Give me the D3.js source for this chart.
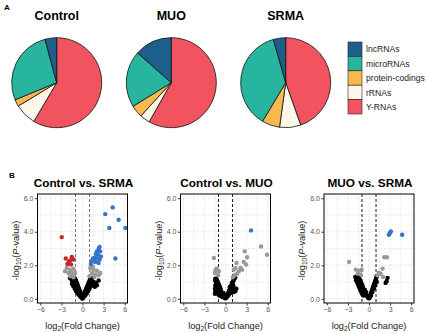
<!DOCTYPE html>
<html>
<head>
<meta charset="utf-8">
<script src="https://cdn.jsdelivr.net/npm/d3@7"></script>
<style>
  body { margin: 0; background: #fff; }
  svg { font-family: "Liberation Sans", Arial, sans-serif; }
</style>
</head>
<body>
<div id="chart"></div>
<script>
// ---- data ----
var pieGroups = ["Control", "MUO", "SRMA"];
var rnaTypes = ["lncRNAs", "microRNAs", "protein-codings", "rRNAs", "Y-RNAs"];
var rnaColors = ["#1d5f8a", "#27b5a0", "#f5b94f", "#fcf7e8", "#f2545f"];
// percent of reads per RNA type
var pieControl = [4.2, 27.0, 2.5, 7.8, 58.5];
var pieMUO = [13.5, 20.3, 4.4, 3.6, 58.2];
var pieSRMA = [4.4, 37.0, 6.4, 7.6, 44.6];

var volcanoTitles = ["Control vs. SRMA", "Control vs. MUO", "MUO vs. SRMA"];
var xTicks = [-6, -3, 0, 3, 6];
var yTicks = [0, 2, 4, 6];

// [log2 fold change, -log10 p]
var ctrlSrmaBlack = [[-0.05,0.02],[-0.1,0.08],[-0.15,0.12],[-0.2,0.15],[-0.25,0.2],[-0.3,0.22],[-0.35,0.28],[-0.4,0.3],[-0.45,0.35],[-0.5,0.38],[-0.55,0.42],[-0.6,0.45],[-0.65,0.5],[-0.7,0.52],[-0.75,0.58],[-0.8,0.6],[-0.85,0.65],[-0.9,0.68],[-0.95,0.72],[-1.0,0.75],[-1.05,0.8],[-1.1,0.82],[-1.15,0.88],[-1.2,0.9],[-1.25,0.95],[-1.3,0.98],[-1.35,1.02],[-1.4,1.05],[-1.45,1.1],[-1.5,1.12],[-1.6,1.18],[-1.7,1.22],[-1.8,1.25],
  [-0.2,0.25],[-0.3,0.38],[-0.4,0.5],[-0.5,0.6],[-0.6,0.72],[-0.7,0.85],[-0.8,0.95],[-0.9,1.05],[-1.0,1.15],[-1.1,1.22],
  [-0.3,0.12],[-0.5,0.22],[-0.7,0.32],[-0.9,0.45],[-1.1,0.6],[-1.3,0.75],[-1.5,0.9],
  [0.05,0.03],[0.1,0.08],[0.15,0.14],[0.2,0.18],[0.25,0.22],[0.3,0.27],[0.35,0.32],[0.4,0.36],[0.45,0.4],[0.5,0.45],[0.55,0.5],[0.6,0.55],[0.65,0.6],[0.7,0.64],[0.75,0.7],[0.8,0.74],[0.85,0.78],[0.9,0.82],[0.95,0.88],[1.0,0.92],[1.05,0.96],[1.1,1.0],[1.15,1.05],[1.2,1.1],[1.3,1.18],[1.4,1.25],
  [0.2,0.3],[0.35,0.45],[0.5,0.6],[0.65,0.75],[0.8,0.9],[0.95,1.05],[1.1,1.2],
  [0.4,0.2],[0.6,0.32],[0.8,0.45],[1.0,0.6],[1.2,0.75],[1.4,0.9],[1.6,1.0],
  [2.05,0.81],[2.3,1.09],[1.75,0.72],[1.9,0.95]];
var ctrlSrmaGrey = [[-2.24,1.84],[-1.76,1.74],[-1.29,1.78],[-2.48,1.64],[-2.0,1.54],[-1.52,1.49],[-1.05,1.54],[-1.76,1.35],[-1.29,1.29],[-1.6,1.6],
  [1.1,1.84],[1.57,1.74],[2.05,1.68],[1.33,1.54],[1.81,1.45],[2.29,1.41],[1.0,1.35],[2.52,1.54],[1.48,1.92],[1.7,1.3]];
var ctrlSrmaDown = [[-2.95,3.68],[-1.52,2.5],[-2.38,2.4],[-1.29,2.34],[-1.76,2.28],[-2.14,2.08],[-1.62,2.04],[-1.95,2.2]];
var ctrlSrmaUp = [[4.29,5.45],[3.24,5.05],[5.14,4.71],[3.81,4.22],[6.1,4.22],[4.67,2.4],
  [2.43,3.09],[2.29,2.97],[2.05,2.83],[2.52,2.83],[1.9,2.67],[2.19,2.63],[2.62,2.53],[1.71,2.44],[1.48,2.4],[2.05,2.4],[2.43,2.34],[1.33,2.24],[1.81,2.2],[2.29,2.14],[1.19,2.08]];

var ctrlMuoBlack = [[-0.05,0.03],[-0.1,0.07],[-0.18,0.12],[-0.25,0.16],[-0.3,0.2],[-0.38,0.25],[-0.45,0.3],[-0.5,0.34],[-0.55,0.38],[-0.62,0.42],[-0.7,0.46],[-0.75,0.5],[-0.8,0.55],[-0.88,0.6],[-0.95,0.64],[-1.0,0.68],[-1.05,0.72],[-1.1,0.78],[-1.15,0.82],[-1.2,0.86],[-1.25,0.9],[-1.3,0.95],[-1.35,1.0],[-1.4,1.05],[-1.42,1.12],[-1.45,1.2],[-1.3,1.2],[-1.2,1.1],[-1.1,1.0],[-1.0,0.9],[-0.9,0.8],[-0.8,0.7],[-0.7,0.6],
  [-1.5,0.3],[-1.45,0.4],[-1.4,0.5],[-1.5,0.6],[-1.35,0.7],[-1.45,0.8],[-1.3,0.55],[-1.2,0.4],[-1.25,0.6],[-1.1,0.3],[-1.0,0.45],[-0.9,0.2],[-0.8,0.3],[-0.6,0.15],[-0.4,0.1],[-0.3,0.35],[-0.2,0.25],
  [0.05,0.04],[0.1,0.09],[0.15,0.13],[0.2,0.18],[0.28,0.24],[0.35,0.3],[0.4,0.36],[0.48,0.42],[0.55,0.5],[0.6,0.56],[0.68,0.62],[0.75,0.7],[0.8,0.76],[0.88,0.82],[0.95,0.9],[1.0,0.96],[1.05,1.02],[1.12,1.08],[1.2,1.15],[1.3,1.22],[1.38,1.28],
  [0.3,0.15],[0.5,0.25],[0.7,0.35],[0.9,0.45],[1.1,0.55],[1.3,0.62],[1.42,0.46],[1.55,0.6],[1.2,0.4],[0.6,0.7],[0.9,0.95],[1.1,0.8]];
var ctrlMuoGrey = [[5.05,3.12],[5.9,2.63],[2.74,2.83],[3.07,2.48],[2.59,2.2],[2.92,2.04],[2.12,1.84],[1.56,2.14],[1.42,1.84],[1.18,1.74],[1.89,1.64],[2.36,1.74],[1.65,1.49],[1.32,1.41],[1.04,1.29],
  [-1.65,2.44],[-1.27,1.8],[-0.94,1.64],[-1.51,1.54],[-1.04,1.41],[-1.42,1.7]];
var ctrlMuoUp = [[3.63,4.08]];

var muoSrmaBlack = [[-0.05,0.03],[-0.12,0.08],[-0.2,0.13],[-0.28,0.18],[-0.35,0.22],[-0.42,0.28],[-0.5,0.33],[-0.58,0.38],[-0.65,0.43],[-0.72,0.48],[-0.8,0.54],[-0.88,0.6],[-0.95,0.65],[-1.02,0.7],[-1.1,0.76],[-1.18,0.82],[-1.25,0.88],[-1.32,0.94],[-1.4,1.0],[-1.5,1.06],[-1.6,1.12],[-1.7,1.18],[-1.8,1.24],[-1.95,1.3],
  [-1.85,1.1],[-1.7,1.0],[-1.6,0.9],[-1.5,0.8],[-1.4,0.7],[-1.3,0.6],[-1.2,0.5],[-1.1,0.4],[-1.0,0.3],[-0.9,0.75],[-1.0,0.85],[-1.1,0.95],[-1.2,1.05],[-1.3,1.15],[-1.45,1.25],[-1.6,1.35],[-0.8,0.2],[-0.6,0.55],[-0.4,0.4],
  [0.05,0.04],[0.1,0.1],[0.15,0.16],[0.2,0.22],[0.25,0.28],[0.3,0.34],[0.35,0.4],[0.4,0.46],[0.45,0.52],[0.5,0.58],[0.55,0.64],[0.6,0.7],[0.65,0.76],[0.7,0.82],[0.75,0.88],[0.8,0.94],[0.85,1.0],[0.9,1.06],[0.95,1.12],[1.0,1.2],[1.05,1.28],[1.1,1.36],
  [0.3,0.2],[0.5,0.4],[0.7,0.6],[0.9,0.8],[1.1,1.0],
  [2.64,1.25],[2.36,0.95],[2.5,1.05]];
var muoSrmaGrey = [[-2.83,2.2],[2.17,2.48],[2.55,2.48],[-1.89,1.74],[-1.42,1.68],[-1.04,1.74],[-1.6,1.5],[-1.2,1.45],[1.93,1.8],[1.65,1.49],[1.2,1.4],[1.4,1.55],[2.0,1.3]];
var muoSrmaUp = [[2.97,3.92],[2.83,3.82],[3.11,4.02],[4.72,3.82]];

var pieValues = [pieControl, pieMUO, pieSRMA];
var volcanoSets = [
  {black: ctrlSrmaBlack, grey: ctrlSrmaGrey, down: ctrlSrmaDown, up: ctrlSrmaUp, dash: "#666"},
  {black: ctrlMuoBlack, grey: ctrlMuoGrey, down: [], up: ctrlMuoUp, dash: "#000"},
  {black: muoSrmaBlack, grey: muoSrmaGrey, down: [], up: muoSrmaUp, dash: "#000"}
];

var svg = d3.select("#chart").append("svg")
    .attr("width", 426)
    .attr("height", 333);

svg.append("rect").attr("width", 426).attr("height", 333).attr("fill", "#fff");

// panel letters
svg.append("text").attr("x", 4).attr("y", 10)
    .attr("font-size", "8px").attr("font-weight", "bold").text("A");
svg.append("text").attr("x", 9).attr("y", 178)
    .attr("font-size", "8px").attr("font-weight", "bold").text("B");

// ---- pies ----
var pieCenters = [56.7, 171.3, 285.7];
var pieRadius = 45;
var arc = d3.arc().innerRadius(0).outerRadius(pieRadius);
// ggplot draws Y-RNAs first clockwise from 12 o'clock
var pie = d3.pie().sort(null).value(function(d) { return d.v; });

pieGroups.forEach(function(name, gi) {
    var slices = rnaTypes.map(function(t, i) { return {t: t, v: pieValues[gi][i], c: rnaColors[i]}; }).reverse();
    var g = svg.append("g").attr("transform", "translate(" + pieCenters[gi] + ",82.7)");
    g.selectAll("path")
        .data(pie(slices))
        .enter()
        .append("path")
        .attr("d", arc)
        .attr("fill", function(d) { return d.data.c; })
        .attr("stroke", "#111")
        .attr("stroke-width", 0.8);

    svg.append("text")
        .attr("x", pieCenters[gi])
        .attr("y", 20)
        .attr("text-anchor", "middle")
        .attr("font-size", "12.5px")
        .attr("font-weight", "bold")
        .text(name);
});

// legend
var legend = svg.append("g").attr("transform", "translate(348,42)");
rnaTypes.forEach(function(t, i) {
    legend.append("rect")
        .attr("x", 0).attr("y", i * 14.4)
        .attr("width", 14).attr("height", 14.4)
        .attr("fill", rnaColors[i])
        .attr("stroke", "#222").attr("stroke-width", 0.6);
    legend.append("text")
        .attr("x", 18).attr("y", i * 14.4 + 10.3)
        .attr("font-size", "8.6px")
        .attr("fill", "#222")
        .text(t);
});

// ---- volcano plots ----
var panelLefts = [37.5, 180.5, 324];
var panelW = 90, panelTop = 194, panelH = 109;

volcanoSets.forEach(function(set, pi) {
    var left = panelLefts[pi];
    var x = d3.scaleLinear().domain([-6.4, 6.4]).range([0, panelW]);
    var y = d3.scaleLinear().domain([-0.25, 6.25]).range([panelH, 0]);
    var g = svg.append("g").attr("transform", "translate(" + left + "," + panelTop + ")");

    // dotted grid, major + minor
    var gx = [-6, -4.5, -3, -1.5, 0, 1.5, 3, 4.5, 6];
    var gy = [0, 1, 2, 3, 4, 5, 6];
    g.selectAll(".gx").data(gx).enter().append("line")
        .attr("x1", x).attr("x2", x).attr("y1", 0).attr("y2", panelH)
        .attr("stroke", "#c8c8c8").attr("stroke-width", 0.6).attr("stroke-dasharray", "1,1.5");
    g.selectAll(".gy").data(gy).enter().append("line")
        .attr("x1", 0).attr("x2", panelW).attr("y1", y).attr("y2", y)
        .attr("stroke", "#c8c8c8").attr("stroke-width", 0.6).attr("stroke-dasharray", "1,1.5");

    // fold change cutoffs
    g.selectAll(".cut").data([-1, 1]).enter().append("line")
        .attr("x1", x).attr("x2", x).attr("y1", 0).attr("y2", panelH)
        .attr("stroke", set.dash).attr("stroke-width", 0.9).attr("stroke-dasharray", "3,2");

    function dots(data, color) {
        g.append("g").selectAll("circle")
            .data(data)
            .enter()
            .append("circle")
            .attr("cx", function(d) { return x(d[0]); })
            .attr("cy", function(d) { return y(d[1]); })
            .attr("r", 2.2)
            .attr("fill", color);
    }
    dots(set.black, "#000");
    dots(set.grey, "#999");
    dots(set.down, "#c4262b");
    dots(set.up, "#3474c8");

    g.append("rect").attr("width", panelW).attr("height", panelH)
        .attr("fill", "none").attr("stroke", "#000").attr("stroke-width", 1);

    var xa = g.append("g").attr("transform", "translate(0," + panelH + ")")
        .call(d3.axisBottom(x).tickValues(xTicks).tickSize(2.5).tickPadding(1.5));
    var ya = g.append("g")
        .call(d3.axisLeft(y).tickValues(yTicks).tickSize(2.5).tickPadding(1.5));
    [xa, ya].forEach(function(a) {
        a.select(".domain").remove();
        a.selectAll("text").attr("font-size", "7px").attr("fill", "#555")
            .attr("font-family", "Liberation Sans, Arial, sans-serif");
        a.selectAll("line").attr("stroke", "#333");
    });

    // titles and labels
    svg.append("text")
        .attr("x", left + panelW / 2 + 1)
        .attr("y", 187)
        .attr("text-anchor", "middle")
        .attr("font-size", "11.8px")
        .attr("font-weight", "bold")
        .text(volcanoTitles[pi]);

    var xl = svg.append("text")
        .attr("x", left + panelW / 2)
        .attr("y", 329)
        .attr("text-anchor", "middle")
        .attr("font-size", "9.2px")
        .attr("fill", "#222");
    xl.append("tspan").text("log");
    xl.append("tspan").attr("font-size", "6.5px").attr("dy", 2.2).text("2");
    xl.append("tspan").attr("dy", -2.2).text("(Fold Change)");

    var yl = svg.append("text")
        .attr("transform", "translate(" + (left - 19) + "," + (panelTop + panelH / 2 + 2) + ") rotate(-90)")
        .attr("text-anchor", "middle")
        .attr("font-size", "9.2px")
        .attr("fill", "#222");
    yl.append("tspan").text("-log");
    yl.append("tspan").attr("font-size", "6.5px").attr("dy", 2.2).text("10");
    yl.append("tspan").attr("dy", -2.2).text("(");
    yl.append("tspan").attr("font-style", "italic").text("P");
    yl.append("tspan").text("-value)");
});
</script>
</body>
</html>
